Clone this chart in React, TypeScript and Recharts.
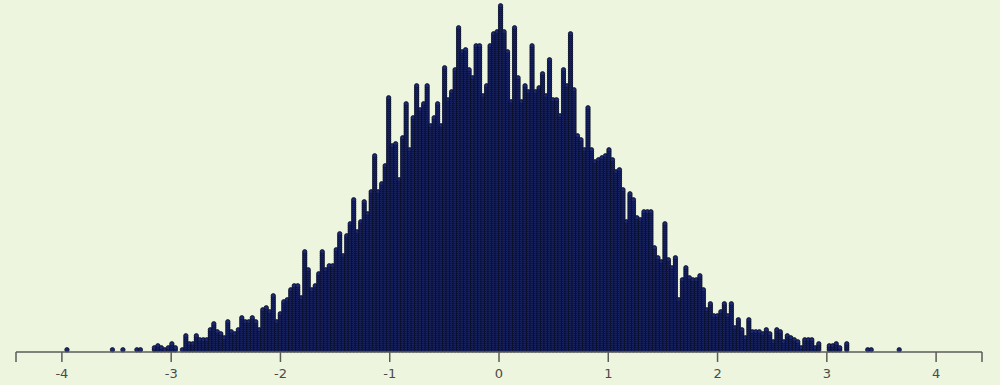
import { Bar, ComposedChart, XAxis, YAxis } from 'recharts';

// histogram bins: 240 bins of width 0.032 starting at -4
const BIN_START = -4;
const BIN_WIDTH = 0.032;

// dot counts per bin (left tail -> right tail)
const countsLeftTail = [
  0, 1, 0, 0, 0, 0, 0, 0, 0, 0,
  0, 0, 0, 0, 1, 0, 0, 1, 0, 0,
  0, 1, 1, 0, 0, 0, 2, 3, 2, 1,
  2, 4, 2, 0, 1, 8, 4, 4, 8, 6,
  6, 6, 11, 14, 10, 9, 7, 15, 10, 9,
  11, 17, 15, 15, 17, 15, 11, 21, 22, 20,
];
const countsLeftBody = [
  28, 15, 19, 25, 26, 31, 33, 33, 27, 50,
  41, 31, 33, 39, 50, 41, 43, 43, 51, 59,
  48, 58, 64, 76, 60, 65, 75, 69, 80, 98,
  80, 84, 93, 127, 103, 104, 86, 107, 124, 101,
  117, 133, 121, 124, 133, 113, 117, 124, 113, 142,
  126, 130, 141, 162, 150, 151, 141, 137, 153, 153,
];
const countsRightBody = [
  128, 133, 153, 159, 160, 173, 160, 150, 125, 162,
  137, 125, 133, 130, 153, 130, 132, 139, 128, 146,
  126, 126, 118, 141, 133, 159, 131, 108, 106, 101,
  122, 101, 95, 96, 97, 98, 101, 96, 90, 91,
  81, 65, 79, 76, 67, 66, 70, 70, 70, 52,
  47, 45, 64, 46, 42, 47, 26, 36, 42, 37,
];
const countsRightTail = [
  36, 36, 38, 31, 21, 24, 18, 18, 20, 24,
  18, 24, 12, 16, 11, 7, 16, 10, 10, 10,
  9, 11, 9, 5, 11, 10, 5, 8, 7, 6,
  5, 2, 6, 6, 6, 2, 4, 0, 0, 3,
  3, 4, 2, 0, 4, 0, 0, 0, 0, 0,
  1, 1, 0, 0, 0, 0, 0, 0, 0, 1,
];

const TICKS = [-4.42, -4, -3, -2, -1, 0, 1, 2, 3, 4, 4.42];

const counts = [...countsLeftTail, ...countsLeftBody, ...countsRightBody, ...countsRightTail];
const data = counts.map((n, i) => ({ x: BIN_START + BIN_WIDTH * (i + 0.5), n }));

const R = 2.2;

function DotColumn(props: any) {
  const { x, y, width, height, payload } = props;
  const n = payload?.n ?? 0;
  if (!n || !height || height <= 0) return <g />;
  const step = height / n;
  const cx = x + width / 2;
  const base = y + height;
  return (
    <g>
      {Array.from({ length: n }, (_, k) => (
        <circle
          key={k}
          cx={cx}
          cy={base - R - step * k}
          r={R}
          fill="#1c2870"
          stroke="#080c22"
          strokeWidth={0.8}
        />
      ))}
    </g>
  );
}

export default function App() {
  return (
    <div
      style={{
        position: 'absolute',
        left: 0,
        top: 0,
        width: 1000,
        height: 385,
        background: '#edf5df',
      }}
    >
      <ComposedChart width={1000} height={385} data={data} margin={{ top: 0, right: 18, bottom: 0, left: 16 }}>
        <XAxis
          type="number"
          dataKey="x"
          domain={[-4.42, 4.42]}
          ticks={TICKS}
          allowDataOverflow
          height={33}
          tickSize={10}
          tickMargin={7}
          interval={0}
          tickFormatter={(v: number) => (Number.isInteger(v) ? String(v) : '')}
          axisLine={{ stroke: '#5a5a5a', strokeWidth: 1.5 }}
          tickLine={{ stroke: '#5a5a5a', strokeWidth: 1.5 }}
          tick={{ fill: '#4a4a4a', fontSize: 13, fontFamily: 'DejaVu Sans' }}
        />
        <YAxis hide domain={[0, 176]} />
        <Bar dataKey="n" barSize={4} isAnimationActive={false} shape={DotColumn} />
      </ComposedChart>
    </div>
  );
}
